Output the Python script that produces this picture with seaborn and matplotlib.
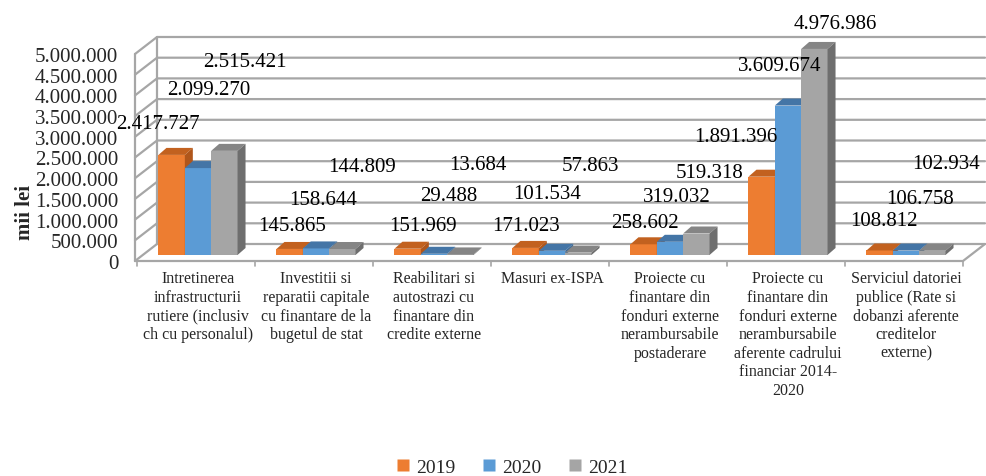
import numpy as np
import pandas as pd
import seaborn as sns
import matplotlib.pyplot as plt
from matplotlib.lines import Line2D
from matplotlib.patches import Polygon
from matplotlib.ticker import FuncFormatter
from matplotlib.transforms import ScaledTranslation

categories = [
    'Intretinerea\ninfrastructurii\nrutiere (inclusiv\nch cu personalul)',
    'Investitii si\nreparatii capitale\ncu finantare de la\nbugetul de stat',
    'Reabilitari si\nautostrazi cu\nfinantare din\ncredite externe',
    'Masuri ex-ISPA',
    'Proiecte cu\nfinantare din\nfonduri externe\nnerambursabile\npostaderare',
    'Proiecte cu\nfinantare din\nfonduri externe\nnerambursabile\naferente cadrului\nfinanciar 2014-\n2020',
    'Serviciul datoriei\npublice (Rate si\ndobanzi aferente\ncreditelor\nexterne)',
]
years = ['2019', '2020', '2021']
v2019 = [2417727, 145865, 151969, 171023, 258602, 1891396, 108812]
v2020 = [2099270, 158644, 29488, 101534, 319032, 3609674, 106758]
v2021 = [2515421, 144809, 13684, 57863, 519318, 4976986, 102934]

colors = ['#ED7D31', '#5B9BD5', '#A5A5A5']
top_colors = ['#C2611F', '#4475A6', '#858585']
side_colors = ['#B0561B', '#3E6B98', '#6E6E6E']

# where Excel put the data labels, relative to the bar top (pixels, x right / y up)
label_offsets = [
    [(-14, 31), (2, 23), (15, 23), (0, 22), (1, 22), (-26, 40), (4, 30)],
    [(11, 79), (7, 49), (15, 58), (-5, 57), (7, 45), (-8, 40), (14, 52)],
    [(21, 89), (20, 83), (18, 90), (12, 87), (13, 61), (21, 25), (14, 87)],
]

df = pd.DataFrame({
    'cat': categories * 3,
    'year': np.repeat(years, len(categories)),
    'value': v2019 + v2020 + v2021,
})

sns.set_style('white')
plt.rcParams['font.family'] = ['Liberation Serif', 'DejaVu Serif']

W, H = 987, 477
fig = plt.figure(figsize=(W / 100, H / 100), dpi=100)
ax = fig.add_axes([139 / W, (H - 256) / H, 826 / W, 207 / H])
ax.patch.set_visible(False)

sns.barplot(data=df, x='cat', y='value', hue='year', palette=colors,
            saturation=1, width=0.67, linewidth=0, legend=False, ax=ax)

ax.set_xlim(-0.5, 6.5)
ax.set_ylim(0, 5e6)
ax.set_yticks(np.arange(0, 5e6 + 1, 5e5))
ax.yaxis.set_major_formatter(FuncFormatter(lambda v, p: f'{int(v):,}'.replace(',', '.')))
ax.tick_params(axis='y', length=0, pad=15, labelsize=15)
ax.set_xticks(range(len(categories)))
ax.set_xticklabels(categories, fontsize=11.5, linespacing=1.22, va='top')
ax.tick_params(axis='x', length=0, pad=11)
ax.set_xlabel('')
ax.set_ylabel('')
sns.despine(ax=ax, left=True, bottom=True)

# y labels sit on the front edge of the 3D wall, a bit below the bar scale
for lab in ax.get_yticklabels():
    lab.set_transform(lab.get_transform() + ScaledTranslation(0, -6 / 100, fig.dpi_scale_trans))

# fake 3D depth on the bars
ddx = 8 / 118
ddy = 7 / 41.4 * 1e6
for s, cont in enumerate(ax.containers):
    for bar in cont:
        x0 = bar.get_x()
        x1 = x0 + bar.get_width()
        h = bar.get_height()
        zz = 3 + 30 * x0
        bar.set_zorder(zz)
        top = Polygon([(x0, h), (x0 + ddx, h + ddy), (x1 + ddx, h + ddy), (x1, h)],
                      closed=True, facecolor=top_colors[s], edgecolor='none',
                      zorder=zz + 0.1, clip_on=False)
        side = Polygon([(x1, 0), (x1, h), (x1 + ddx, h + ddy), (x1 + ddx, ddy)],
                       closed=True, facecolor=side_colors[s], edgecolor='none',
                       zorder=zz + 0.2, clip_on=False)
        ax.add_patch(top)
        ax.add_patch(side)

# data labels
for s, cont in enumerate(ax.containers):
    for c, bar in enumerate(cont):
        dx, dy = label_offsets[s][c]
        val = bar.get_height()
        ax.annotate(f'{int(round(val)):,}'.replace(',', '.'),
                    (bar.get_x() + bar.get_width() / 2, val),
                    xytext=(dx, dy), textcoords='offset pixels',
                    ha='center', va='center', fontsize=15, color='black',
                    zorder=500, annotation_clip=False)


# back wall / floor grid in pixel space, derived from the axes scale
def px(xd, yd):
    x, y = ax.transData.transform((xd, yd))
    return x, H - y


def fig_line(xs, ys, **kw):
    fig.add_artist(Line2D([x / W for x in xs], [1 - y / H for y in ys],
                          transform=fig.transFigure, zorder=-1, **kw))


gcol = '#a6a6a6'
left_x, _ = px(-0.5, 0)
right_x, _ = px(6.5, 0)
for v in ax.get_yticks():
    _, y = px(0, v)
    fig_line([left_x - 4, left_x + 18, right_x + 20], [y + 6, y - 11, y - 11],
             color=gcol, lw=1.6)
_, y0 = px(0, 0)
_, y5 = px(0, 5e6)
fig_line([left_x - 4, right_x - 2, right_x + 20], [y0 + 6, y0 + 6, y0 - 11], color=gcol, lw=1.6)
fig_line([left_x - 4, left_x - 4], [y0 + 6, y5 + 6], color=gcol, lw=1.6)
fig_line([left_x + 18, left_x + 18], [y0 - 11, y5 - 11], color=gcol, lw=1.6)
for k in range(8):
    xk, _ = px(k - 0.5, 0)
    fig_line([xk - 2, xk - 2], [y0 + 6, y0 + 11], color=gcol, lw=1.2)

fig.text(25 / W, 1 - 213 / H, 'mii lei', rotation=90, ha='center', va='center',
         fontsize=15, fontweight='bold')

handles = [Line2D([], [], marker='s', linestyle='', markersize=8.5,
                  markerfacecolor=c, markeredgecolor='none') for c in colors]
fig.legend(handles, years, loc='center', bbox_to_anchor=(512 / W, 1 - 468 / H),
           ncol=3, frameon=False, fontsize=14, handlelength=0.7,
           handletextpad=0.3, columnspacing=1.4)

fig.savefig('out.png', dpi=100)
